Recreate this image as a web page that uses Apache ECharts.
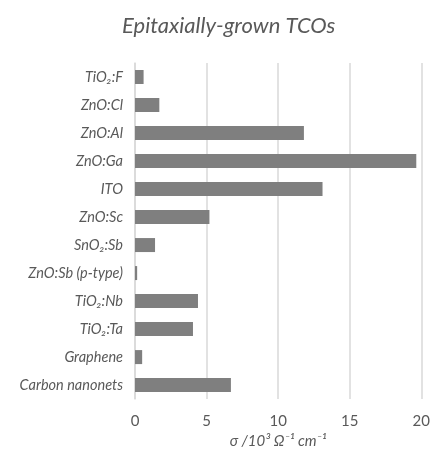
<!DOCTYPE html>
<html>
<head>
<meta charset="utf-8">
<script src="https://cdn.jsdelivr.net/npm/echarts@6/dist/echarts.min.js"></script>
<style>
  html, body { margin: 0; padding: 0; background: #fff; }
  #main { width: 433px; height: 454px; }
</style>
</head>
<body>
<div id="main"></div>
<script>
// materials, top to bottom as in the figure
var materials = ['TiO₂:F', 'ZnO:Cl', 'ZnO:Al', 'ZnO:Ga', 'ITO', 'ZnO:Sc', 'SnO₂:Sb',
  'ZnO:Sb (p-type)', 'TiO₂:Nb', 'TiO₂:Ta', 'Graphene', 'Carbon nanonets'];
// conductivity, 10^3 S/cm
var sigma = [0.6, 1.7, 11.8, 19.65, 13.1, 5.2, 1.4, 0.15, 4.4, 4.05, 0.5, 6.7];
var xTicks = [0, 5, 10, 15, 20];

var font = 'Lato';
var txt = '#595959';

var chart = echarts.init(document.getElementById('main'));
chart.setOption({
  animation: false,
  title: {
    text: 'Epitaxially-grown TCOs',
    left: 117,
    top: 10,
    textStyle: { fontFamily: font, fontSize: 22, fontStyle: 'italic', fontWeight: 'normal', color: txt }
  },
  grid: { left: 135, right: 10, top: 63, bottom: 54 },
  xAxis: {
    type: 'value',
    min: xTicks[0],
    max: xTicks[xTicks.length - 1],
    interval: 5,
    name: 'σ /10³ Ω⁻¹ cm⁻¹',
    nameLocation: 'middle',
    nameGap: 27,
    nameTextStyle: { fontFamily: font, fontSize: 15, fontStyle: 'italic', color: txt },
    axisLine: { show: false },
    axisTick: { show: false },
    axisLabel: { fontFamily: font, fontSize: 15, color: txt, margin: 15 },
    splitLine: { lineStyle: { color: '#d9d9d9', width: 1.5 } }
  },
  yAxis: {
    type: 'category',
    data: materials,
    inverse: true,
    axisLine: { lineStyle: { color: '#d9d9d9', width: 1.5 } },
    axisTick: { show: false },
    axisLabel: { fontFamily: font, fontSize: 14.5, fontStyle: 'italic', color: txt, margin: 12 }
  },
  series: [{
    type: 'bar',
    data: sigma,
    barWidth: '50%',
    itemStyle: { color: '#7f7f7f' }
  }]
});
</script>
</body>
</html>
